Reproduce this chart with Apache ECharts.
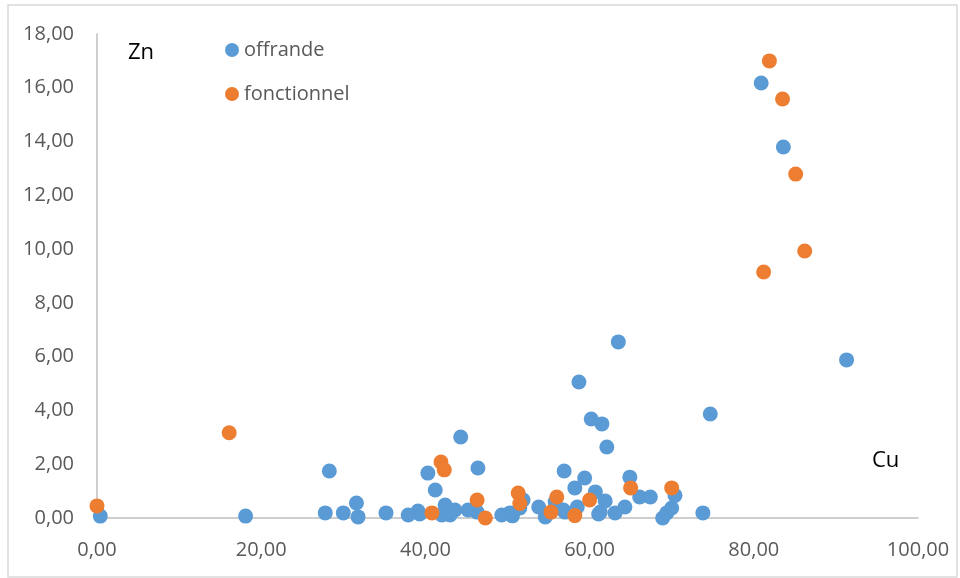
<!DOCTYPE html>
<html>
<head>
<meta charset="utf-8">
<script src="https://cdn.jsdelivr.net/npm/echarts@6/dist/echarts.min.js"></script>
<style>html,body{margin:0;padding:0;background:#fff}#c{width:960px;height:578px}</style>
</head>
<body>
<div id="c"></div>
<script>
const seriesNames = ['offrande', 'fonctionnel'];
const offrande = [
  [0.4,0.07],[18.1,0.07],[27.8,0.19],[28.3,1.75],[30.0,0.19],[31.6,0.56],[31.8,0.04],[35.2,0.19],
  [37.9,0.11],[39.1,0.26],[39.3,0.15],[40.3,1.67],[41.2,1.04],[42.0,0.11],[42.4,0.48],[43.0,0.11],
  [43.6,0.30],[44.3,3.01],[45.2,0.30],[46.3,0.22],[46.4,1.86],[49.3,0.11],[50.3,0.19],[50.6,0.08],
  [51.5,0.37],[51.9,0.67],[53.8,0.41],[54.6,0.04],[55.8,0.60],[56.8,0.30],[56.9,1.75],[57.0,0.22],
  [58.2,1.12],[58.5,0.41],[58.7,5.06],[59.4,1.49],[60.2,3.68],[60.7,0.97],[61.1,0.15],[61.3,0.22],
  [61.5,3.50],[61.9,0.63],[62.1,2.64],[63.1,0.19],[63.5,6.55],[64.3,0.41],[64.9,1.52],[66.1,0.78],
  [67.4,0.78],[68.9,0.00],[69.4,0.19],[70.0,0.37],[70.4,0.84],[73.8,0.19],[74.7,3.87],[80.9,16.18],
  [83.6,13.80],[91.3,5.88]
];
const fonctionnel = [
  [0.0,0.45],[16.1,3.17],[40.8,0.19],[41.9,2.08],[42.3,1.79],[46.3,0.67],[47.3,0.00],[51.3,0.93],
  [51.5,0.54],[55.3,0.22],[56.0,0.78],[58.2,0.09],[60.0,0.67],[65.0,1.12],[70.0,1.12],[81.2,9.15],
  [81.9,17.00],[83.5,15.58],[85.1,12.79],[86.2,9.93]
];
const xAxisRange = [0, 100, 20];
const yAxisRange = [0, 18, 2];
const xTitle = 'Cu';
const yTitle = 'Zn';

const FONT = '"Open Sans", "Noto Sans", sans-serif';
const fmt = v => v.toFixed(2).replace('.', ',');

const chart = echarts.init(document.getElementById('c'), null, {renderer: 'canvas'});
chart.setOption({
  backgroundColor: '#ffffff',
  animation: false,
  grid: {left: 97, right: 42, top: 34, bottom: 60, containLabel: false},
  xAxis: {
    type: 'value', min: xAxisRange[0], max: xAxisRange[1], interval: xAxisRange[2],
    axisLine: {show: true, onZero: false, lineStyle: {color: '#bfbfbf', width: 1.5}},
    axisTick: {show: false},
    splitLine: {show: false},
    axisLabel: {color: '#595959', fontSize: 20, fontFamily: FONT, margin: 22, formatter: fmt}
  },
  yAxis: {
    type: 'value', min: yAxisRange[0], max: yAxisRange[1], interval: yAxisRange[2],
    axisLine: {show: true, onZero: false, lineStyle: {color: '#bfbfbf', width: 1.5}},
    axisTick: {show: false},
    splitLine: {show: false},
    axisLabel: {color: '#595959', fontSize: 20, fontFamily: FONT, margin: 23, formatter: fmt}
  },
  legend: {
    orient: 'vertical', left: 220, top: 35, itemGap: 24,
    itemWidth: 14, itemHeight: 14, icon: 'circle',
    textStyle: {color: '#595959', fontSize: 20, fontFamily: FONT},
    data: seriesNames
  },
  graphic: [
    {type: 'rect', shape: {x: 8, y: 5, width: 949, height: 572}, style: {fill: 'none', stroke: '#d9d9d9', lineWidth: 1.5}, silent: true, z: -1},
    {type: 'text', left: 128, top: 42, style: {text: yTitle, fill: '#000', fontSize: 22, fontFamily: FONT}},
    {type: 'text', left: 872, top: 450, style: {text: xTitle, fill: '#000', fontSize: 22, fontFamily: FONT}}
  ],
  series: [
    {name: seriesNames[0], type: 'scatter', data: offrande, symbolSize: 15, itemStyle: {color: '#5b9bd5', opacity: 1}, z: 2},
    {name: seriesNames[1], type: 'scatter', data: fonctionnel, symbolSize: 15, itemStyle: {color: '#ed7d31', opacity: 1}, z: 3}
  ]
});
</script>
</body>
</html>
